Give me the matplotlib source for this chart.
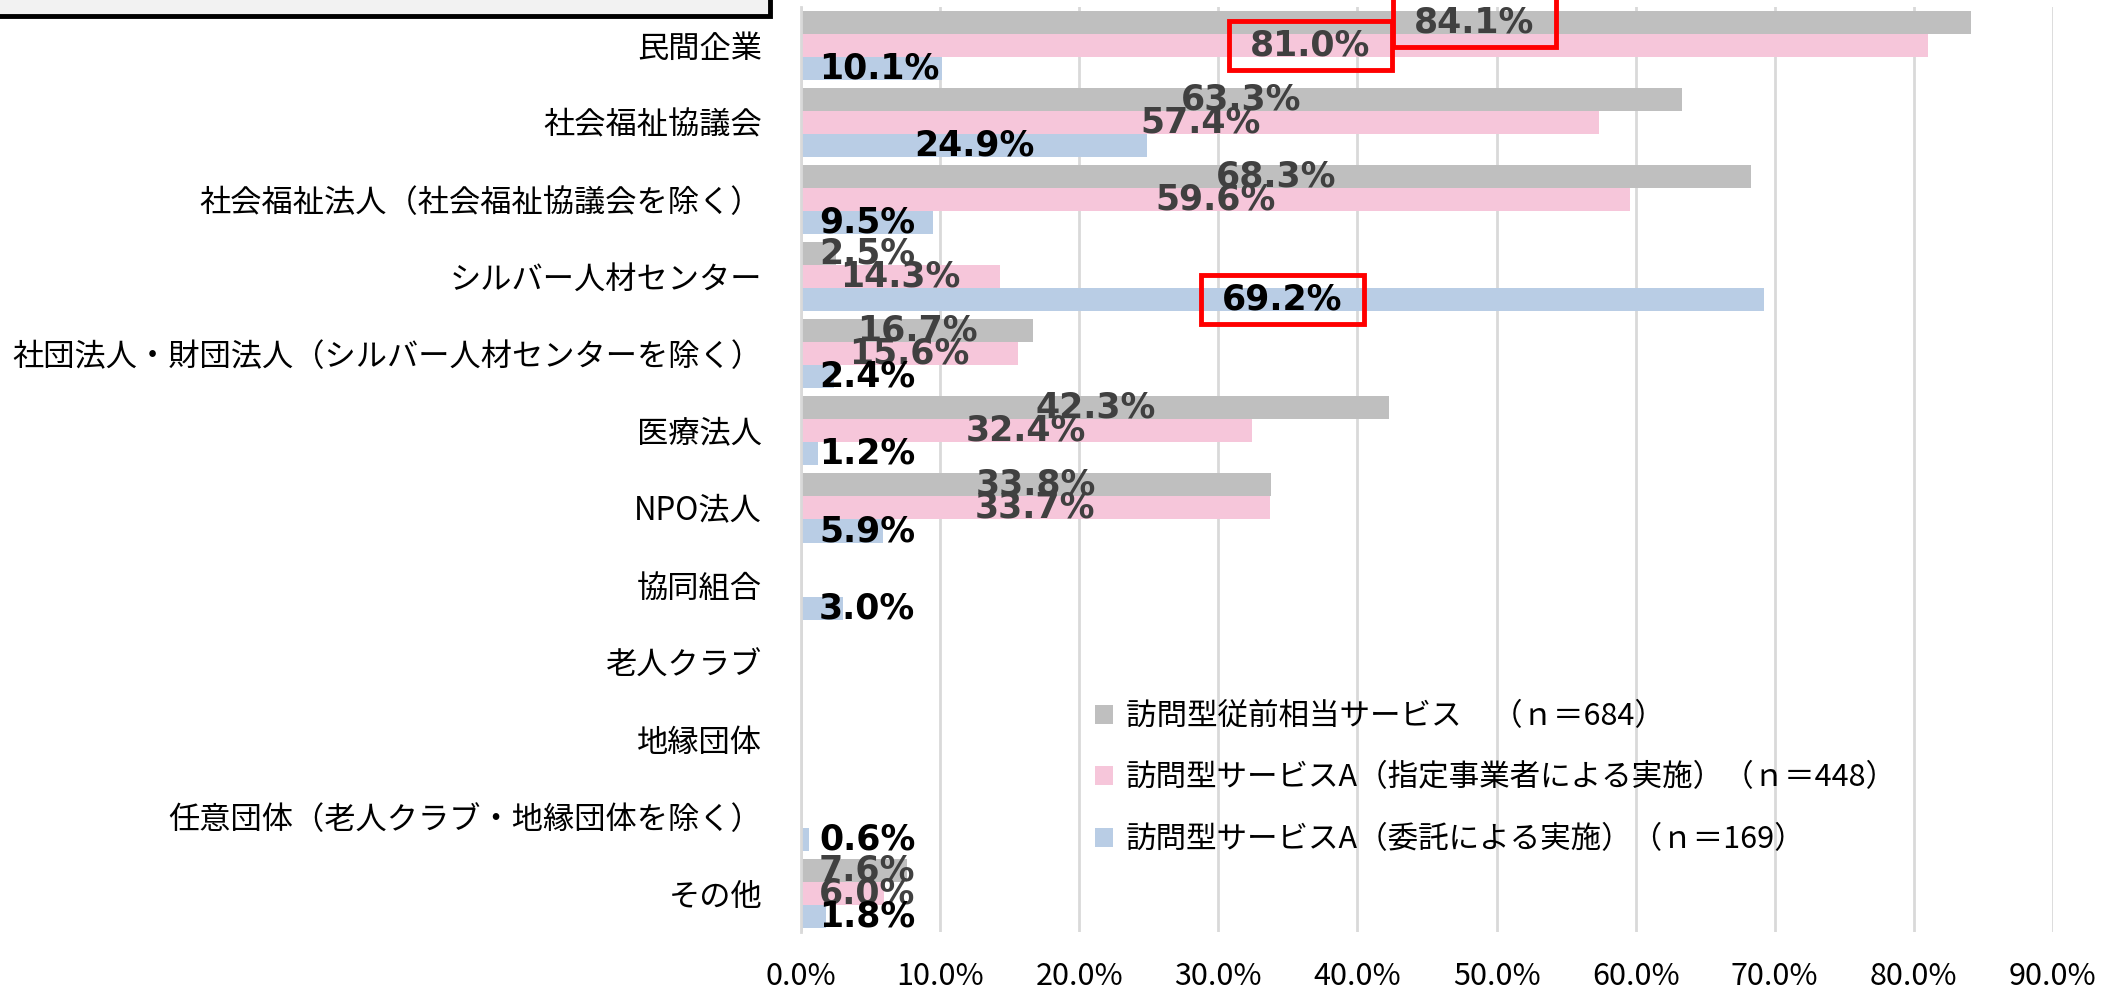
import matplotlib
matplotlib.use("Agg")
import matplotlib.pyplot as plt
from matplotlib.patches import Patch, Rectangle

plt.rcParams['font.family'] = ['Noto Sans CJK JP', 'DejaVu Sans']

categories = [
    "民間企業",
    "社会福祉協議会",
    "社会福祉法人（社会福祉協議会を除く）",
    "シルバー人材センター",
    "社団法人・財団法人（シルバー人材センターを除く）",
    "医療法人",
    "NPO法人",
    "協同組合",
    "老人クラブ",
    "地縁団体",
    "任意団体（老人クラブ・地縁団体を除く）",
    "その他",
]
series_names = [
    "訪問型従前相当サービス　（ｎ＝684）",
    "訪問型サービスA（指定事業者による実施）（ｎ＝448）",
    "訪問型サービスA（委託による実施）（ｎ＝169）",
]
juuzen = [84.1, 63.3, 68.3, 2.5, 16.7, 42.3, 33.8, 0, 0, 0, 0, 7.6]
shitei = [81.0, 57.4, 59.6, 14.3, 15.6, 32.4, 33.7, 0, 0, 0, 0, 6.0]
itaku = [10.1, 24.9, 9.5, 69.2, 2.4, 1.2, 5.9, 3.0, 0, 0, 0.6, 1.8]
xticks = [0, 10, 20, 30, 40, 50, 60, 70, 80, 90]

COLORS = ["#bfbfbf", "#f6c6da", "#b9cde5"]
LABEL_COLORS = ["#404040", "#404040", "black"]
BAR_H = 0.3
# labels moved by hand in the original (series, category) -> x position
moved = {(0, 0): 48.4, (1, 0): 36.6}
# labels highlighted with a red frame
framed = [(0, 0), (1, 0), (2, 3)]

fig = plt.figure(figsize=(21.21, 9.89), dpi=100, facecolor="white")
ax = fig.add_axes([801 / 2121, 1 - 932 / 989, 1252 / 2121, (932 - 6.7) / 989])

series = [juuzen, shitei, itaku]
texts = []
for s, vals in enumerate(series):
    for i, v in enumerate(vals):
        y = i + (s - 1) * BAR_H
        ax.barh(y, v, height=BAR_H, color=COLORS[s], zorder=2)
        if v > 0:
            x = moved.get((s, i), v / 2)
            t = ax.text(x, y, f"{v:.1f}%", ha="center", va="center",
                        fontsize=25, fontweight="bold", color=LABEL_COLORS[s],
                        family="DejaVu Sans", zorder=4)
            texts.append((t, s, i))

ax.set_xlim(0, 90)
ax.set_ylim(len(categories) - 0.5, -0.5)
ax.set_xticks(xticks)
ax.set_xticklabels([f"{x:.1f}%" for x in xticks], fontsize=22)
ax.set_yticks(range(len(categories)))
ax.set_yticklabels(categories, fontsize=22.5)
ax.tick_params(axis="both", length=0)
ax.tick_params(axis="y", pad=28)
ax.tick_params(axis="x", pad=21)
ax.grid(axis="x", color="#d9d9d9", linewidth=2, zorder=0)
for side in ["top", "right", "bottom"]:
    ax.spines[side].set_visible(False)
ax.spines["left"].set_color("#d9d9d9")
ax.spines["left"].set_linewidth(2)

# Excel keeps centred labels inside the plot area: clamp the small ones
fig.canvas.draw()
renderer = fig.canvas.get_renderer()
left_px = ax.transData.transform((0, 0))[0] + 18
inv = ax.transData.inverted()
for t, s, i in texts:
    bb = t.get_window_extent(renderer)
    if bb.x0 < left_px:
        cx = left_px + bb.width / 2
        t.set_x(inv.transform((cx, 0))[0])

for s, i in framed:
    for t, ts, ti in texts:
        if ts == s and ti == i:
            cx, cy = t.get_position()
            ax.add_patch(Rectangle((cx - 5.85, cy - 0.32), 11.7, 0.64,
                                   fill=False, edgecolor="#ff0000",
                                   linewidth=3.5, clip_on=False, zorder=5))

handles = [Patch(facecolor=c, edgecolor="none") for c in COLORS]
ax.legend(handles, series_names, loc="upper left",
          bbox_to_anchor=(1095 / 2121, 1 - 701 / 989),
          bbox_transform=fig.transFigure, frameon=False, fontsize=22,
          handlelength=0.6, handleheight=0.6, handletextpad=0.4,
          labelspacing=1.0, borderpad=0, borderaxespad=0)

# cut-off title box at the top left
fig.patches.append(Rectangle((-0.01, 1 - 16 / 989), 770 / 2121 + 0.01, 0.1,
                             transform=fig.transFigure, facecolor="#f2f2f2",
                             edgecolor="black", linewidth=3.5))

fig.savefig("out.png", dpi=100, facecolor="white")
